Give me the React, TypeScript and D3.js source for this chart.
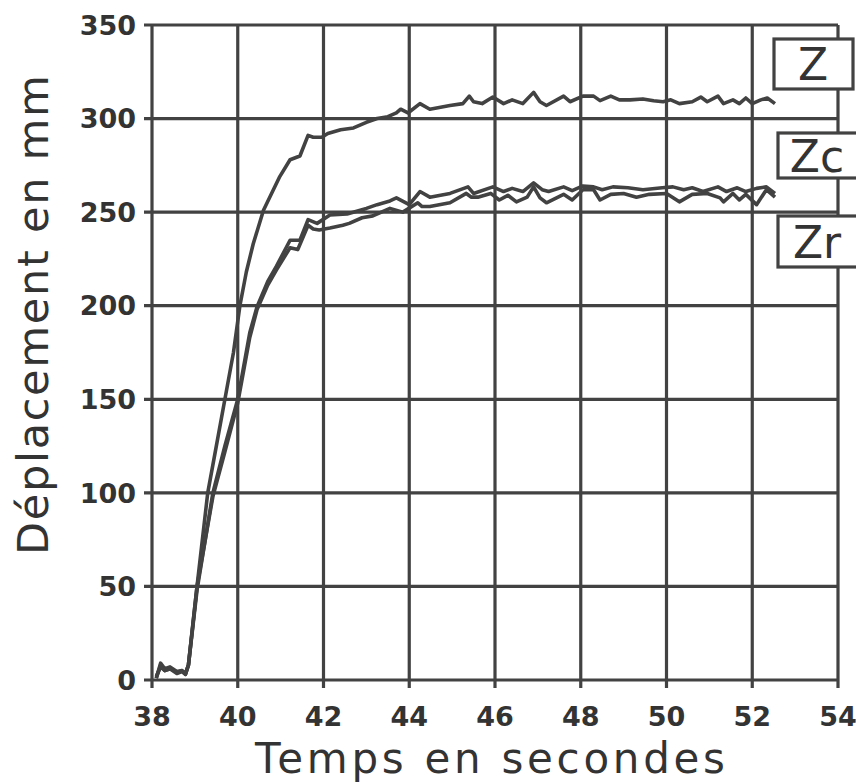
import React from "react";
import * as d3 from "d3";

const xTicks = [38, 40, 42, 44, 46, 48, 50, 52, 54];
const yTicks = [0, 50, 100, 150, 200, 250, 300, 350];

const zTime = [38.1, 38.2, 38.3, 38.42, 38.58, 38.7, 38.78, 38.85, 39.05, 39.3, 39.5, 39.7, 39.9, 40.05, 40.2, 40.36, 40.6, 40.98, 41.22, 41.45, 41.64, 41.76, 41.96, 42.1, 42.4, 42.7, 43.0, 43.25, 43.5, 43.7, 43.8, 43.97, 44.25, 44.48, 44.95, 45.25, 45.4, 45.5, 45.7, 45.95, 46.2, 46.4, 46.65, 46.9, 47.05, 47.2, 47.6, 47.75, 48.05, 48.3, 48.45, 48.7, 48.9, 49.15, 49.45, 49.7, 49.92, 50.1, 50.3, 50.6, 50.8, 50.95, 51.2, 51.33, 51.55, 51.7, 51.85, 52.0, 52.2, 52.35, 52.53];
const zValues = [1, 9, 6, 7, 4.5, 5, 3.5, 8, 50, 100, 125, 150, 175, 200, 218, 233, 251, 269, 278, 280, 291, 290, 290, 292, 294, 295, 298, 300, 301, 303, 305, 303, 308, 305, 307, 308, 312, 309, 308, 311.5, 308, 310, 308, 314, 309, 307, 312, 309, 312, 312, 309.6, 312, 310, 310, 310.5, 309.5, 309, 310, 308, 309, 311.5, 309, 312, 308, 310, 308, 311, 308, 310, 311, 308];

const zcTime = [38.1, 38.2, 38.3, 38.42, 38.58, 38.7, 38.78, 38.85, 39.05, 39.42, 39.7, 40.0, 40.28, 40.45, 40.7, 40.9, 41.22, 41.45, 41.64, 41.85, 42.15, 42.55, 43.0, 43.25, 43.55, 43.7, 44.0, 44.25, 44.48, 44.95, 45.37, 45.5, 45.95, 46.2, 46.4, 46.65, 46.9, 47.1, 47.25, 47.6, 47.8, 48.05, 48.3, 48.5, 48.75, 49.1, 49.45, 49.9, 50.15, 50.4, 50.6, 50.85, 51.2, 51.4, 51.65, 51.85, 52.1, 52.33, 52.53];
const zcValues = [1, 8, 5, 6, 4, 5, 3, 8, 48, 100, 125, 150, 185.5, 199.5, 213, 221, 235, 235, 246, 244, 248.5, 249, 252, 254, 256, 257.6, 254, 261, 258, 260, 263.5, 260, 263.5, 261, 262.7, 261, 265.6, 262, 261, 263.5, 261.5, 264, 263.5, 262, 263.5, 263, 262, 263, 263.5, 262, 263, 261, 263.5, 261, 263, 261, 262.7, 263.5, 260];

const zrTime = [38.1, 38.2, 38.3, 38.42, 38.58, 38.7, 38.78, 38.85, 39.05, 39.42, 39.7, 40.0, 40.28, 40.45, 40.7, 40.9, 41.22, 41.4, 41.64, 41.76, 41.9, 42.15, 42.45, 42.6, 42.9, 43.15, 43.55, 43.85, 44.2, 44.3, 44.48, 44.95, 45.33, 45.45, 45.6, 45.9, 46.1, 46.3, 46.5, 46.75, 46.9, 47.05, 47.2, 47.6, 47.8, 48.05, 48.3, 48.45, 48.7, 49.0, 49.3, 49.6, 50.0, 50.3, 50.6, 50.95, 51.25, 51.33, 51.55, 51.7, 51.85, 52.1, 52.33, 52.53];
const zrValues = [2, 7, 5, 6, 3.5, 4.5, 3, 8, 50, 98, 122, 148, 183, 198, 211, 219, 231, 230, 243, 241, 240.5, 241.5, 243, 244, 247, 248, 252, 250, 255, 253, 253, 255, 260, 258, 258, 260, 256.5, 259, 255.5, 258, 263.5, 257.6, 255, 259.5, 256.5, 262, 262, 256.5, 259.5, 260, 258, 259.5, 260, 255.5, 259.5, 260, 257.6, 255.5, 260, 256.5, 259.5, 254, 262, 258];

const seriesNames = ["Z", "Zc", "Zr"];

const INK = "#424242";

export default function App() {
  const x = d3.scaleLinear().domain([38, 54]).range([152, 838]);
  const y = d3.scaleLinear().domain([0, 350]).range([680, 25]);
  const line = d3
    .line<[number, number]>()
    .x((d) => x(d[0]))
    .y((d) => y(d[1]));

  const series = [
    d3.zip(zTime, zValues) as [number, number][],
    d3.zip(zcTime, zcValues) as [number, number][],
    d3.zip(zrTime, zrValues) as [number, number][],
  ];

  const legendBoxes = [
    { x: 774, y: 39, w: 79, h: 50, tx: 813, ty: 80 },
    { x: 778, y: 133, w: 82, h: 45, tx: 817, ty: 172 },
    { x: 778, y: 216, w: 82, h: 51, tx: 817, ty: 258 },
  ];

  const tickFont = "'DejaVu Sans', sans-serif";

  return (
    <svg
      width={856}
      height={784}
      style={{ position: "absolute", left: 0, top: 0, background: "#fff" }}
    >
      <rect x={0} y={0} width={856} height={784} fill="#fff" />
      {yTicks.map((t) => (
        <line
          key={"h" + t}
          x1={x(38) - 8}
          x2={x(54)}
          y1={y(t)}
          y2={y(t)}
          stroke={INK}
          strokeWidth={3.2}
        />
      ))}
      {xTicks.map((t) => (
        <line
          key={"v" + t}
          x1={x(t)}
          x2={x(t)}
          y1={y(350)}
          y2={y(0) + 8}
          stroke={INK}
          strokeWidth={3.2}
        />
      ))}
      {series.map((s, i) => (
        <path
          key={seriesNames[i]}
          d={line(s) || ""}
          fill="none"
          stroke={INK}
          strokeWidth={3.6}
          strokeLinejoin="round"
        />
      ))}
      {yTicks.map((t) => (
        <text
          key={"yl" + t}
          x={136}
          y={y(t)}
          dy="0.36em"
          textAnchor="end"
          fontFamily={tickFont}
          fontSize={27}
          fontWeight="bold"
          fill="#333"
        >
          {t}
        </text>
      ))}
      {xTicks.map((t) => (
        <text
          key={"xl" + t}
          x={x(t)}
          y={726}
          textAnchor="middle"
          fontFamily={tickFont}
          fontSize={27}
          fontWeight="bold"
          fill="#333"
        >
          {t}
        </text>
      ))}
      <text
        x={490}
        y={773}
        textAnchor="middle"
        fontFamily={tickFont}
        fontSize={42}
        fill="#333"
        textLength={470}
        lengthAdjust="spacing"
      >
        Temps en secondes
      </text>
      <text
        transform="translate(48,315) rotate(-90)"
        textAnchor="middle"
        fontFamily={tickFont}
        fontSize={43}
        fill="#333"
        textLength={480}
        lengthAdjust="spacing"
      >
        Déplacement en mm
      </text>
      {legendBoxes.map((b, i) => (
        <g key={"lg" + i}>
          <rect
            x={b.x}
            y={b.y}
            width={b.w}
            height={b.h}
            fill="#fff"
            stroke={INK}
            strokeWidth={3.2}
          />
          <text
            x={b.tx}
            y={b.ty}
            textAnchor="middle"
            fontFamily={tickFont}
            fontSize={44}
            fill="#333"
          >
            {seriesNames[i]}
          </text>
        </g>
      ))}
    </svg>
  );
}
